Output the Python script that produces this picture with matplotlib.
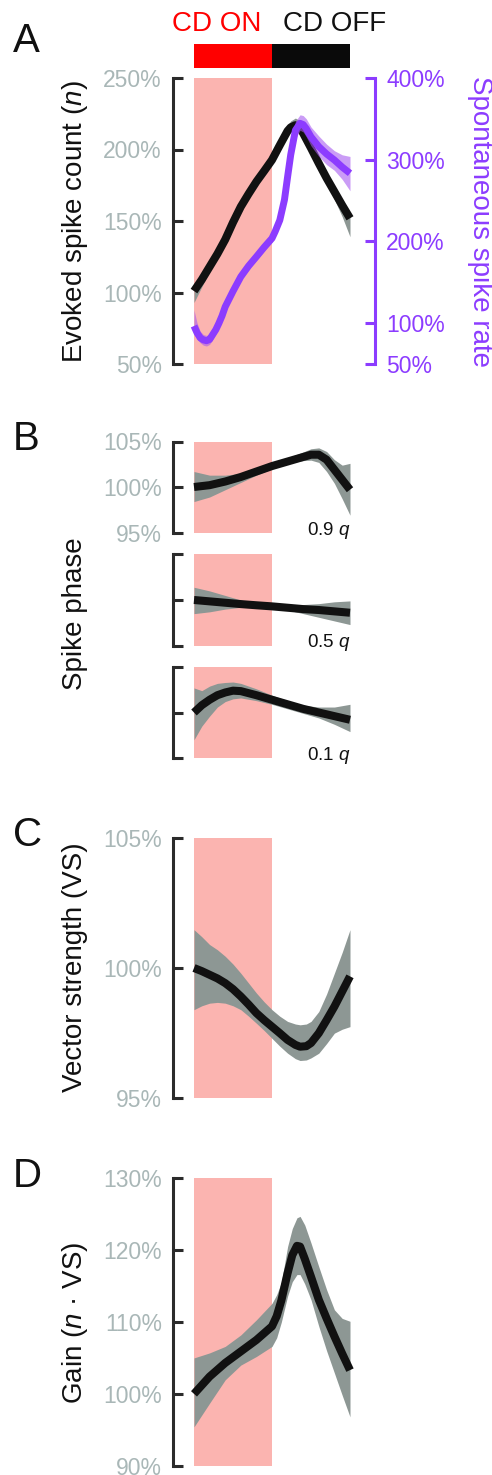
import matplotlib
matplotlib.use("Agg")
import matplotlib.pyplot as plt
from matplotlib.ticker import FuncFormatter

plt.rcParams['font.family'] = ['Liberation Sans', 'DejaVu Sans']
plt.rcParams['mathtext.fontset'] = 'custom'
plt.rcParams['mathtext.rm'] = 'Liberation Sans'
plt.rcParams['mathtext.it'] = 'Liberation Sans:italic'

# ---------------- data ----------------
# Panel A: evoked spike count (left axis, %)
A_x = [0, .05, .1, .15, .2, .25, .3, .35, .4, .45, .5, .55, .6, .62, .65, .68, .7, .75, .8, .85, .9, .95, 1.0]
A_n = [101, 109, 118, 127, 137, 149, 160, 169, 177.5, 185, 192.7, 203, 213, 215.5, 217, 215, 211.3, 201, 190.3, 180, 170.5, 161, 151.9]
A_n_hi = [104, 112, 121, 130, 140, 152, 163, 172, 181, 189, 196, 206, 217, 220, 222, 220, 215, 204, 193, 183, 173, 164, 156]
A_n_lo = [93, 104, 115, 124, 134, 146, 157, 166, 175, 182, 190, 200, 209, 212, 213, 211, 207, 197, 186, 176, 165, 153, 139]
# Panel A: spontaneous spike rate (right axis, %)
S_x = [0, .02, .04, .06, .08, .1, .12, .14, .16, .18, .2, .25, .3, .35, .4, .45, .5, .52, .55, .58,
       .6, .62, .65, .68, .7, .72, .75, .8, .85, .9, .95, 1.0]
S_rate = [96.5, 88, 82, 79.5, 78.5, 80, 86, 92, 100, 109, 120, 139, 156.8, 170, 181.3, 193, 203.8, 212, 226, 251,
          279, 306, 336, 344.5, 343, 338, 328, 316, 307, 299.6, 291, 283.4]
S_hi = [116, 100, 90, 86, 85, 87, 92, 98, 106, 115, 126, 145, 162, 176, 186, 198, 208, 217, 231, 257,
        285, 314, 347, 355, 354, 350, 340, 329, 319, 311, 306, 304]
S_lo = [88, 80, 76, 73, 72, 74, 80, 87, 95, 104, 115, 134, 152, 165, 177, 188, 199, 207, 221, 245,
        273, 298, 326, 336, 334, 328, 317, 304, 294, 287, 276, 262]

# Panel B: spike phase quantiles
B9_x = [0, .1, .2, .3, .4, .5, .6, .7, .75, .8, .85, .9, .95, 1.0]
B9 = [100.0, 100.2, 100.6, 101.1, 101.7, 102.3, 102.8, 103.3, 103.55, 103.55, 103.0, 101.9, 100.8, 99.7]
B9_hi = [101.7, 101.3, 101.3, 101.5, 102.0, 102.6, 103.2, 103.85, 104.2, 104.3, 103.9, 103.0, 102.4, 102.6]
B9_lo = [98.4, 98.9, 99.7, 100.5, 101.3, 102.0, 102.6, 102.9, 102.95, 102.7, 101.7, 100.4, 98.7, 96.9]

B5_x = [0, .1, .2, .3, .4, .5, .6, .7, .8, .9, 1.0]
B5 = [100.0, 99.85, 99.7, 99.55, 99.42, 99.3, 99.15, 99.0, 98.9, 98.75, 98.6]
B5_hi = [101.4, 101.0, 100.5, 100.0, 99.6, 99.4, 99.4, 99.5, 99.6, 99.8, 99.9]
B5_lo = [98.5, 98.7, 99.0, 99.2, 99.3, 99.2, 98.9, 98.5, 98.1, 97.7, 97.3]

B1_x = [0, .05, .1, .15, .2, .25, .3, .4, .5, .6, .7, .8, .9, 1.0]
B1 = [100.0, 100.8, 101.4, 101.9, 102.2, 102.4, 102.35, 101.9, 101.4, 100.9, 100.4, 100.0, 99.6, 99.2]
B1_hi = [102.7, 102.4, 102.9, 103.2, 103.3, 103.35, 103.2, 102.6, 101.9, 101.3, 100.8, 100.6, 100.6, 100.9]
B1_lo = [97.0, 98.5, 99.6, 100.6, 101.2, 101.5, 101.6, 101.3, 100.9, 100.4, 99.9, 99.4, 98.7, 97.9]

# Panel C: vector strength
C_x = [0, .05, .1, .15, .2, .25, .3, .35, .4, .45, .5, .55, .6, .65, .68, .72, .75, .8, .85, .9, .95, 1.0]
C_vs = [100.0, 99.88, 99.74, 99.6, 99.42, 99.19, 98.91, 98.6, 98.27, 98.0, 97.75, 97.5, 97.24, 97.05, 96.98, 97.0,
        97.12, 97.5, 98.0, 98.52, 99.1, 99.68]
C_hi = [101.47, 101.2, 100.9, 100.7, 100.45, 100.15, 99.8, 99.42, 99.04, 98.7, 98.4, 98.15, 97.95, 97.85, 97.82,
        97.85, 97.95, 98.33, 99.0, 99.8, 100.6, 101.47]
C_lo = [98.4, 98.55, 98.65, 98.68, 98.65, 98.55, 98.4, 98.15, 97.88, 97.6, 97.3, 97.0, 96.73, 96.52, 96.45, 96.47,
        96.55, 96.73, 97.1, 97.5, 97.65, 97.75]

# Panel D: gain
D_x = [0, .1, .2, .3, .4, .5, .53, .56, .6, .63, .66, .68, .71, .75, .8, .85, .9, .95, 1.0]
D_gain = [100.0, 102.4, 104.3, 105.9, 107.5, 109.4, 110.8, 113.0, 116.8, 119.3, 120.6, 120.5, 118.8, 116.3,
          113.1, 110.5, 108.0, 105.6, 103.3]
D_hi = [105.0, 105.7, 106.6, 108.2, 110.3, 112.6, 113.8, 115.5, 120.5, 123.0, 124.5, 124.7, 123.5, 121.0,
        117.7, 114.5, 111.7, 110.5, 110.1]
D_lo = [95.4, 98.7, 101.95, 104.0, 105.2, 106.6, 107.8, 110.0, 113.6, 115.6, 116.6, 116.6, 115.3, 113.1,
        109.4, 106.0, 102.9, 99.8, 96.8]

A_ticks = [50, 100, 150, 200, 250]
S_ticks = [50, 100, 200, 300, 400]
B_ticks = [95, 100, 105]
C_ticks = [95, 100, 105]
D_ticks = [90, 100, 110, 120, 130]
cd_on = (0.0, 0.5)
cd_off = (0.5, 1.0)

# ---------------- style ----------------
W, H = 492, 1475
SHADE = '#fbb4b0'
BAND = '#8d9794'
LINE = '#111111'
PURPLE = '#8c3cff'
TICKGREY = '#a9b7b7'
SPINE = '#2b2b2b'
XL = (-0.1346, 1.1603)

fig = plt.figure(figsize=(W / 100, H / 100), dpi=100)

def fx(px):
    return px / W

def fy(py):
    return 1 - py / H

def make_ax(top, bottom):
    ax = fig.add_axes([fx(173), fy(bottom), fx(375) - fx(173), (bottom - top) / H])
    ax.set_xlim(*XL)
    for s in ['top', 'right', 'bottom']:
        ax.spines[s].set_visible(False)
    ax.spines['left'].set_color(SPINE)
    ax.spines['left'].set_linewidth(2.2)
    ax.tick_params(axis='y', direction='in', length=7, width=2.2, color=SPINE,
                   labelsize=16.5, labelcolor=TICKGREY, pad=8)
    ax.set_xticks([])
    ax.patch.set_alpha(0)
    ax.axvspan(cd_on[0], cd_on[1], color=SHADE, lw=0, zorder=0)
    return ax

pct = FuncFormatter(lambda v, p: f"{v:.0f}%")

def draw(ax, x, y, lo, hi):
    ax.fill_between(x, lo, hi, color=BAND, lw=0, zorder=2)
    ax.plot(x, y, color=LINE, lw=5.8, solid_capstyle='butt', solid_joinstyle='round', zorder=3)

# ---- top bar ----
axb = fig.add_axes([fx(173), fy(67.7), fx(375) - fx(173), 23.4 / H])
axb.set_xlim(*XL)
axb.set_ylim(0, 1)
axb.axis('off')
axb.barh(0.5, cd_on[1] - cd_on[0], left=cd_on[0], height=1, color='#ff0000', lw=0)
axb.barh(0.5, cd_off[1] - cd_off[0], left=cd_off[0], height=1, color='#0a0a0a', lw=0)
fig.text(fx(217), fy(31), 'CD ON', color='#ff0000', fontsize=20, ha='center', va='baseline')
fig.text(fx(335), fy(31), 'CD OFF', color='#111111', fontsize=20, ha='center', va='baseline')

# ---- Panel A ----
axA = make_ax(78, 364)
axA.set_ylim(50, 250)
axA.set_yticks(A_ticks)
axA.yaxis.set_major_formatter(pct)
draw(axA, A_x, A_n, A_n_lo, A_n_hi)
axA2 = axA.twinx()
axA2.set_xlim(*XL)
axA2.set_ylim(50, 400)
for s in ['top', 'left', 'bottom']:
    axA2.spines[s].set_visible(False)
axA2.spines['right'].set_color(PURPLE)
axA2.spines['right'].set_linewidth(2.2)
axA2.set_yticks(S_ticks)
axA2.yaxis.set_major_formatter(pct)
axA2.tick_params(axis='y', direction='in', length=7, width=2.2, color=PURPLE,
                 labelsize=16.5, labelcolor=PURPLE, pad=8)
axA2.fill_between(S_x, S_lo, S_hi, color='#a85af0', alpha=0.6, lw=0, zorder=2)
axA2.plot(S_x, S_rate, color=PURPLE, lw=5, solid_capstyle='butt', solid_joinstyle='round', zorder=3)

# ---- Panel B ----
b_rows = [(441.5, 532.5, B9_x, B9, B9_lo, B9_hi, '0.9 $q$', 535, True),
          (554.5, 645.5, B5_x, B5, B5_lo, B5_hi, '0.5 $q$', 647, False),
          (667.0, 758.0, B1_x, B1, B1_lo, B1_hi, '0.1 $q$', 760, False)]
for top, bot, x, y, lo, hi, lab, base, show in b_rows:
    ax = make_ax(top, bot)
    ax.set_ylim(95, 105)
    ax.set_yticks(B_ticks)
    ax.yaxis.set_major_formatter(pct)
    if not show:
        ax.tick_params(axis='y', labelleft=False)
    draw(ax, x, y, lo, hi)
    fig.text(fx(351), fy(base), lab, fontsize=13.5, ha='right', va='baseline', color='#111111')

# ---- Panel C ----
axC = make_ax(837.7, 1098.3)
axC.set_ylim(95, 105)
axC.set_yticks(C_ticks)
axC.yaxis.set_major_formatter(pct)
draw(axC, C_x, C_vs, C_lo, C_hi)

# ---- Panel D ----
axD = make_ax(1178.3, 1465.7)
axD.set_ylim(90, 130)
axD.set_yticks(D_ticks)
axD.yaxis.set_major_formatter(pct)
draw(axD, D_x, D_gain, D_lo, D_hi)

# ---- labels ----
lab_kw = dict(fontsize=20, rotation=90, ha='center', va='center', color='#111111')
fig.text(fx(75.5), fy(221.5), 'Evoked spike count ($n$)', **lab_kw)
fig.text(fx(75.5), fy(613.5), 'Spike phase', **lab_kw)
fig.text(fx(75.5), fy(967.5), 'Vector strength (VS)', **lab_kw)
fig.text(fx(75.5), fy(1322.5), 'Gain ($n$ · VS)', **lab_kw)
fig.text(fx(480), fy(221.5), 'Spontaneous spike rate', fontsize=20, rotation=270,
         ha='center', va='center', color=PURPLE)

for letter, base in [('A', 52), ('B', 450), ('C', 846), ('D', 1187)]:
    fig.text(fx(13), fy(base), letter, fontsize=29, ha='left', va='baseline', color='#111111')

fig.savefig('out.png', dpi=100)
